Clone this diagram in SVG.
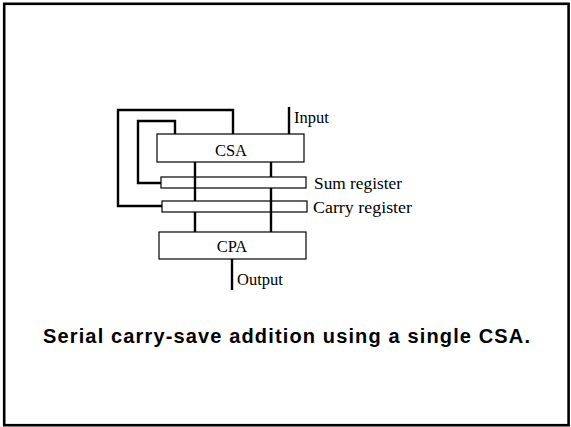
<svg xmlns="http://www.w3.org/2000/svg" width="571" height="427" viewBox="0 0 571 427">
<style>
.box{fill:#fff;stroke:#000;stroke-width:1.2}
.w{fill:none;stroke:#000;stroke-width:2.4}
.t{font-family:"Liberation Serif",serif;font-size:16.5px;fill:#000}
.cap{font-family:"Liberation Sans",Arial,sans-serif;font-size:20px;font-weight:bold;fill:#000}
</style>
<rect x="0" y="0" width="571" height="427" fill="#fff"/>
<rect x="4.2" y="3.8" width="564.4" height="421.4" fill="none" stroke="#000" stroke-width="2.6"/>
<g id="csa">
<rect class="box" x="157" y="134" width="147" height="28"/>
<text class="t" x="231" y="156" text-anchor="middle">CSA</text>
</g>
<g id="sum-register">
<rect class="box" x="161" y="177" width="145" height="11"/>
<text class="t" x="314" y="189" textLength="88" lengthAdjust="spacingAndGlyphs">Sum register</text>
</g>
<g id="carry-register">
<rect class="box" x="162" y="201" width="145" height="11"/>
<text class="t" x="313" y="213" textLength="99" lengthAdjust="spacingAndGlyphs">Carry register</text>
</g>
<g id="cpa">
<rect class="box" x="159" y="232" width="147" height="27"/>
<text class="t" x="232" y="252" text-anchor="middle">CPA</text>
</g>
<g id="input"><text class="t" x="294" y="123">Input</text></g>
<g id="output"><text class="t" x="237" y="285">Output</text></g>
<g id="connectors">
<polyline class="w" points="233,134 233,110 118,110 118,206 162,206"/>
<polyline class="w" points="175,134 175,121 138,121 138,183 161,183"/>
<line class="w" x1="289" y1="107" x2="289" y2="134"/>
<line class="w" x1="195" y1="162" x2="195" y2="201"/>
<line class="w" x1="271" y1="162" x2="271" y2="177"/>
<line class="w" x1="271" y1="188" x2="271" y2="232"/>
<line class="w" x1="195" y1="212" x2="195" y2="232"/>
<line class="w" x1="232" y1="259" x2="232" y2="290"/>
</g>
<g id="caption"><text class="cap" x="43" y="343" textLength="487" lengthAdjust="spacing">Serial carry-save addition using a single CSA.</text></g>
</svg>
